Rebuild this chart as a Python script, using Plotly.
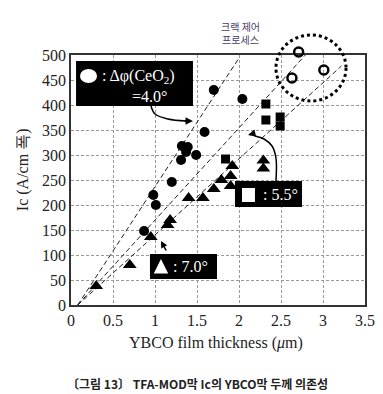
import plotly.graph_objects as go

# ---------------- data ----------------
circle_x = [0.87, 0.98, 1.01, 1.20, 1.31, 1.32, 1.37, 1.39, 1.49, 1.59, 1.70, 2.04]
circle_y = [148, 220, 200, 246, 290, 318, 306, 316, 300, 346, 430, 412]

open_x = [2.63, 2.71, 3.01]
open_y = [454, 506, 470]

square_x = [1.84, 2.32, 2.32, 2.49, 2.49]
square_y = [292, 402, 370, 376, 358]

tri_x = [0.30, 0.70, 0.95, 1.15, 1.18, 1.40, 1.57, 1.70, 1.79, 1.90, 1.90, 1.92, 2.29, 2.29]
tri_y = [38, 80, 136, 160, 170, 214, 214, 232, 250, 238, 258, 278, 273, 289]

# dashed guide lines (start, end)
guide_x = [[0.08, 2.00], [0.08, 2.79], [0.08, 3.22]]
guide_y = [[0, 494], [0, 500], [0, 478]]

x_ticks = [0, 0.5, 1, 1.5, 2, 2.5, 3, 3.5]
y_ticks = [0, 50, 100, 150, 200, 250, 300, 350, 400, 450, 500]

X_RANGE = [0, 3.5]
Y_RANGE = [0, 500]

SERIF = "Liberation Serif"
KR = "Noto Sans CJK KR"

# layout geometry: main plot occupies lower part of the paper; an invisible
# overlay subplot covering the full paper lets out-of-range marks show.
MAIN_TOP = 250 / 277
Y2_RANGE = [0, Y_RANGE[1] / MAIN_TOP]

fig = go.Figure()

for gx, gy in zip(guide_x, guide_y):
    fig.add_trace(go.Scatter(x=gx, y=gy, mode="lines",
                             line=dict(color="#222", width=1, dash="5px,3px"),
                             hoverinfo="skip", showlegend=False))

fig.add_trace(go.Scatter(x=circle_x, y=circle_y, mode="markers",
                         marker=dict(symbol="circle", size=10, color="black"),
                         showlegend=False))
fig.add_trace(go.Scatter(x=square_x, y=square_y, mode="markers",
                         marker=dict(symbol="square", size=9, color="black"),
                         showlegend=False))
fig.add_trace(go.Scatter(x=tri_x, y=tri_y, mode="markers",
                         marker=dict(symbol="triangle-up", size=12, color="black"),
                         showlegend=False))

# curved arrow bodies
fig.add_trace(go.Scatter(x=[0.952, 1.0, 1.155, 1.37], y=[398, 382, 372, 368],
                         mode="lines", line=dict(color="black", width=1.5, shape="spline"),
                         hoverinfo="skip", showlegend=False))
fig.add_trace(go.Scatter(x=[2.44, 2.44, 2.393, 2.298, 2.19], y=[248, 294, 318, 332, 338],
                         mode="lines", line=dict(color="black", width=1.5, shape="spline"),
                         hoverinfo="skip", showlegend=False))

# open circles on the overlay subplot (same scale, taller clip region)
fig.add_trace(go.Scatter(x=open_x, y=open_y, mode="markers", xaxis="x2", yaxis="y2",
                         marker=dict(symbol="circle-open", size=9, color="black",
                                     line=dict(width=2.5, color="black")),
                         showlegend=False))

# ---------------- shapes ----------------
CIRC_CX, CIRC_CY, CIRC_RX, CIRC_RY = 2.857, 474, 0.417, 66

shapes = [
    # legend boxes
    dict(type="rect", xref="x", yref="y", x0=0.06, x1=1.452, y0=398, y1=488,
         fillcolor="black", line=dict(width=0)),
    dict(type="rect", xref="x", yref="y", x0=1.952, x1=2.75, y0=196, y1=248,
         fillcolor="black", line=dict(width=0)),
    dict(type="rect", xref="x", yref="y", x0=0.94, x1=1.738, y0=52, y1=102,
         fillcolor="black", line=dict(width=0)),
    # white symbols inside boxes
    dict(type="circle", xref="x", yref="y", x0=0.107, x1=0.31, y0=444, y1=472,
         fillcolor="white", line=dict(width=0)),
    dict(type="rect", xref="x", yref="y", x0=2.036, x1=2.19, y0=206, y1=234,
         fillcolor="white", line=dict(width=0)),
    dict(type="path", xref="x", yref="y", path="M 1.071 92 L 0.985 63 L 1.157 63 Z",
         fillcolor="white", line=dict(width=0)),
    # dotted circle
    dict(type="circle", xref="x2", yref="y2",
         x0=CIRC_CX - CIRC_RX, x1=CIRC_CX + CIRC_RX,
         y0=CIRC_CY - CIRC_RY, y1=CIRC_CY + CIRC_RY,
         line=dict(color="black", width=3, dash="dot")),
]

annotations = [
    dict(x=0.345, y=458, xref="x", yref="y", xanchor="left", yanchor="middle",
         text=": Δφ(CeO<sub>2</sub>)", showarrow=False,
         font=dict(family=SERIF, size=16, color="white")),
    dict(x=0.70, y=418, xref="x", yref="y", xanchor="left", yanchor="middle",
         text="=4.0°", showarrow=False,
         font=dict(family=SERIF, size=16, color="white")),
    dict(x=2.262, y=222, xref="x", yref="y", xanchor="left", yanchor="middle",
         text=": 5.5°", showarrow=False,
         font=dict(family=SERIF, size=16, color="white")),
    dict(x=1.19, y=78, xref="x", yref="y", xanchor="left", yanchor="middle",
         text=": 7.0°", showarrow=False,
         font=dict(family=SERIF, size=16, color="white")),
    # arrow heads
    dict(x=1.452, y=368, xref="x", yref="y", text="", showarrow=True,
         ax=-10, ay=0, arrowhead=2, arrowsize=1, arrowwidth=1.5, arrowcolor="black"),
    dict(x=2.107, y=340, xref="x", yref="y", text="", showarrow=True,
         ax=8, ay=-2, arrowhead=2, arrowsize=1, arrowwidth=1.5, arrowcolor="black"),
    dict(x=1.071, y=128, xref="x", yref="y", text="", showarrow=True,
         ax=6, ay=11, arrowhead=2, arrowsize=0.9, arrowwidth=1.5, arrowcolor="black"),
    # Korean note
    dict(x=0.578, y=0.982, xref="paper", yref="paper", xanchor="center", yanchor="middle",
         text="크랙 제어<br>프로세스", showarrow=False,
         font=dict(family=KR, size=10, color="#4a3c6a")),
    # axis titles
    dict(x=0.493, y=-0.137, xref="paper", yref="paper", xanchor="center", yanchor="middle",
         text="YBCO film thickness (<i>μ</i>m)", showarrow=False,
         font=dict(family=SERIF, size=16, color="#222")),
    dict(x=-0.163, y=0.487, xref="paper", yref="paper", xanchor="center", yanchor="middle",
         text="Ic (A/cm 폭)", textangle=-90, showarrow=False,
         font=dict(family=SERIF, size=16, color="#222")),
    # caption
    dict(x=0.429, y=-0.2816, xref="paper", yref="paper", xanchor="center", yanchor="middle",
         text="〔그림 13〕 TFA-MOD막 Ic의 YBCO막 두께 의존성", showarrow=False,
         font=dict(family=KR, size=12, color="#222", weight="bold")),
]

axis_font = dict(family=SERIF, size=16, color="#222")

fig.update_layout(
    width=383, height=394,
    margin=dict(l=63, r=26, t=20, b=97),
    paper_bgcolor="white", plot_bgcolor="rgba(0,0,0,0)",
    shapes=shapes, annotations=annotations,
    xaxis=dict(range=X_RANGE, tickvals=x_ticks, ticktext=[str(v) for v in x_ticks],
               domain=[0, 1], anchor="y",
               showgrid=True, gridcolor="#999", griddash="3px,2px", gridwidth=1,
               showline=True, mirror=True, linecolor="#333", linewidth=1.5,
               zeroline=False, ticks="", tickfont=axis_font),
    yaxis=dict(range=Y_RANGE, tickvals=y_ticks, domain=[0, MAIN_TOP], anchor="x",
               showgrid=True, gridcolor="#999", griddash="3px,2px", gridwidth=1,
               showline=True, mirror=True, linecolor="#333", linewidth=1.5,
               zeroline=False, ticks="", tickfont=axis_font),
    xaxis2=dict(range=X_RANGE, domain=[0, 1], anchor="y2", visible=False,
                showgrid=False, zeroline=False),
    yaxis2=dict(range=Y2_RANGE, domain=[0, 1], anchor="x2", visible=False,
                showgrid=False, zeroline=False),
    font=dict(family=SERIF),
)

fig.write_html("out.html")
